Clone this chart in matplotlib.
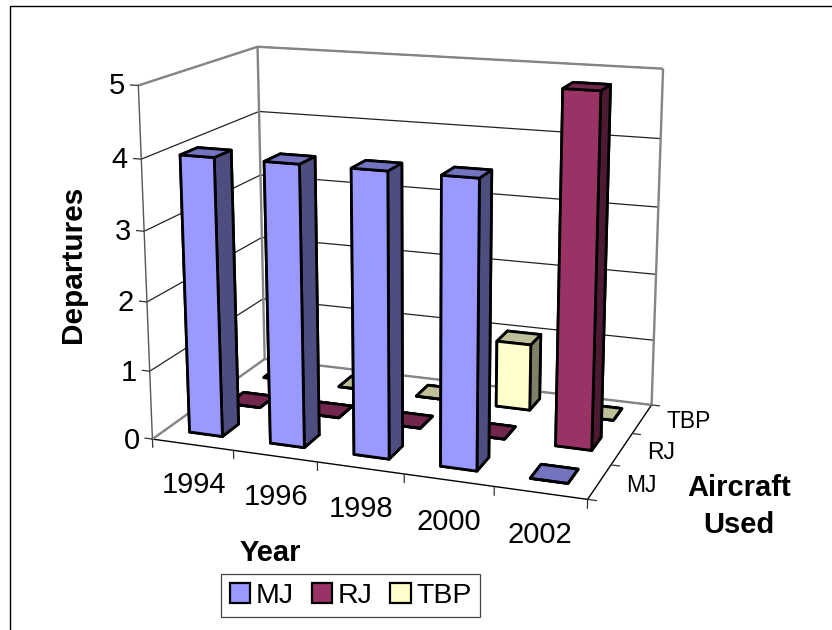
import numpy as np
import matplotlib
matplotlib.use("Agg")
import matplotlib.pyplot as plt
from matplotlib.lines import Line2D
from matplotlib.patches import Patch
from matplotlib.text import Text
from mpl_toolkits.mplot3d.art3d import Line3DCollection

plt.rcParams['font.family'] = ['Liberation Sans', 'DejaVu Sans']

# ---- data ----
YEARS = ['1994', '1996', '1998', '2000', '2002']
SERIES = ['MJ', 'RJ', 'TBP']
MJ = [4, 4, 4, 4, 0]
RJ = [0, 0, 0, 0, 5]
TBP = [0, 0, 0, 1, 0]
VALUES = [MJ, RJ, TBP]
Z_TICKS = [0, 1, 2, 3, 4, 5]

# ---- styles ----
FRONT = ['#9999FF', '#993366', '#FFFFCC']
SIDE = ['#4D4D80', '#4D1A33', '#808066']
TOP = ['#7373BF', '#73264D', '#BFBF99']
W, H = 832, 630

# camera calibration: box reference points -> reference pixels
CAL_WORLD = [(0, 0, 0), (0, 0, 5), (0, 3, 5), (0, 3, 0), (5, 3, 5), (5, 3, 0), (5, 0, 0),
             (0, 0, 4), (0, 0, 1), (1, 0, 0), (2, 0, 0), (3, 0, 0), (4, 0, 0),
             (5, 2, 0), (5, 1, 0)]
CAL_PIX = [(152.7, 438.7), (138.3, 85.7), (257, 46.7), (265, 359), (663.3, 69), (651.7, 405), (587.7, 498.3),
           (141.7, 158.7), (150, 370.7), (233, 451), (317, 462.7), (404, 474), (494, 487.7),
           (631.7, 433.3), (611.7, 464.3)]

fig = plt.figure(figsize=(W / 100, H / 100), dpi=100, facecolor='white')
ax = fig.add_axes([0, (H - W) / 2 / H, 1, W / H], projection='3d')
ax.computed_zorder = False
ax.apply_aspect()
ax.patch.set_visible(False)
to2d = ax.transData.inverted()


def px(x, y):
    return to2d.transform((x, H - y))


# projection fitted from the calibration points
SCALE = 10.0
rows = []
for (a, b, c), p in zip(CAL_WORLD, CAL_PIX):
    u, v = px(*p) * SCALE
    X = [a, b, c, 1.0]
    rows.append([*X, 0, 0, 0, 0, *[-u * t for t in X]])
    rows.append([0, 0, 0, 0, *X, *[-v * t for t in X]])
P = np.linalg.svd(np.array(rows))[2][-1].reshape(3, 4)
wm = np.mean([P[2] @ [*c, 1.0] for c in CAL_WORLD])
P = P / wm
MAT = np.array([P[0] / SCALE, P[1] / SCALE, P[2] - np.array([0, 0, 0, 0.5]), P[2]])
ax.get_proj = lambda: MAT

ax.set_xlim(0, 5)
ax.set_ylim(0, 3)
ax.set_zlim(0, 5)

# axes
ax.set_xticks(np.arange(len(YEARS)) + 0.5, YEARS)
ax.set_yticks(np.arange(len(SERIES)) + 0.5, SERIES)
ax.set_zticks(Z_TICKS)
ax.zaxis.set_ticks_position('lower')
ax.tick_params(axis='x', labelsize=21, pad=29)
ax.tick_params(axis='y', labelsize=16.5, pad=9.5)
ax.tick_params(axis='z', labelsize=21, pad=4.3)
ax.xaxis._axmask = lambda: [False, False, True]
ax.yaxis._axmask = lambda: [True, False, False]
for axis in (ax.xaxis, ax.yaxis, ax.zaxis):
    for t in axis.get_ticklabels():
        t.set_va('center')
for t in ax.yaxis.get_ticklabels():
    t.set_ha('left')
for axis in (ax.xaxis, ax.yaxis, ax.zaxis):
    axis.set_pane_color((1, 1, 1, 1))
    axis.pane.set_edgecolor('none')
    axis.line.set_color('black')
    axis.line.set_linewidth(1.0)
    axis._axinfo['tick']['inward_factor'] = 0
    axis._axinfo['tick']['outward_factor'] = 0
    axis._axinfo['grid']['color'] = '#222222'
    axis._axinfo['grid']['linewidth'] = 0.9
ax.zaxis.line.set_color('#555555')
ax.xaxis._axinfo['grid']['linewidth'] = 0
ax.yaxis._axinfo['grid']['linewidth'] = 0

# axis titles at fixed positions
for axis, text, pos, rot, size in ((ax.xaxis, 'Year', (270.7, 552.7), 0, 21),
                                   (ax.yaxis, 'Aircraft\nUsed', (739.3, 506.5), 0, 21),
                                   (ax.zaxis, 'Departures', (72.5, 264.5), 90, 21.4)):
    axis.set_label_text(text, fontsize=size, fontweight='bold')
    axis.set_rotate_label(False)
    lab = axis.label
    lab.set_rotation(rot)
    lab.set_linespacing(1.38)
    Text.set_position(lab, tuple(px(*pos)))
    lab.set_position = lambda xy: None

# wall frame
GRAY = '#858585'
frame = [[(0, 3, 0), (0, 3, 5)], [(5, 3, 0), (5, 3, 5)], [(0, 0, 5), (0, 3, 5)],
         [(0, 3, 5), (5, 3, 5)], [(0, 0, 0), (0, 3, 0)], [(0, 3, 0), (5, 3, 0)]]
ax.add_collection3d(Line3DCollection(frame, colors=GRAY, linewidths=1.7, zorder=1))

# tick marks
marks = [[(i, 0, 0), (i, 0, -0.13)] for i in range(len(YEARS) + 1)]
marks += [[(5, j, 0), (5.1, j, 0)] for j in range(len(SERIES) + 1)]
marks += [[(0, 0, k), (-0.1, 0, k)] for k in Z_TICKS]
ax.add_collection3d(Line3DCollection(marks, colors='#333333', linewidths=0.9, zorder=1))

# bars, back row first
BAR_X, BAR_W = 0.29, 0.41
BAR_Y, BAR_D = 0.34, 0.42
order = 2
for s in range(len(SERIES) - 1, -1, -1):
    for i in range(len(YEARS)):
        c = [TOP[s], TOP[s], FRONT[s], SIDE[s], SIDE[s], SIDE[s]]
        col = ax.bar3d(i + BAR_X, s + BAR_Y, 0, BAR_W, BAR_D, VALUES[s][i], color=c,
                       edgecolor='black', linewidth=2.0, shade=False)
        col.set_zorder(order)
        order += 1

# legend
handles = [Patch(facecolor=f, edgecolor='black', linewidth=1.6) for f in FRONT]
leg = ax.legend(handles, SERIES, ncol=3, loc='center',
                bbox_to_anchor=(350.8 / W, 1 - 595.7 / H), bbox_transform=fig.transFigure,
                fontsize=20.5, frameon=True, fancybox=False, framealpha=1, edgecolor='#444444',
                handlelength=0.72, handleheight=0.72, handletextpad=0.2, columnspacing=0.62,
                borderpad=0.3, borderaxespad=0)
leg.get_frame().set_linewidth(0.9)

# chart area border
fig.add_artist(Line2D([9.5 / W, 9.5 / W, 1], [0, 1 - 5.5 / H, 1 - 5.5 / H], color='black', lw=1.0,
                      transform=fig.transFigure))

fig.savefig('out.png', dpi=100)
